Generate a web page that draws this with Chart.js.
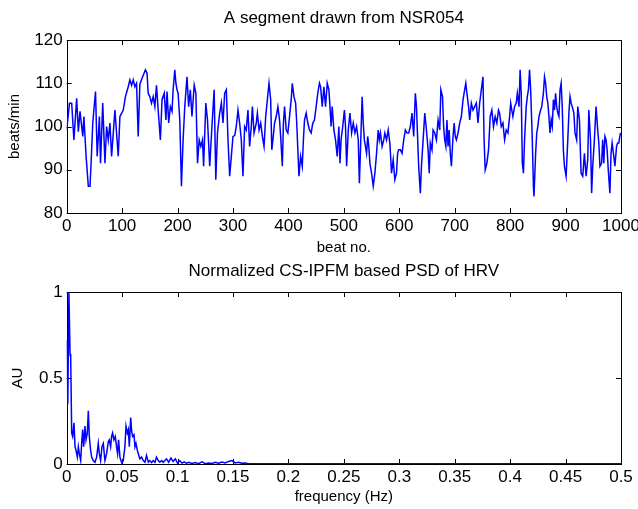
<!DOCTYPE html>
<html>
<head>
<meta charset="utf-8">
<script src="https://cdn.jsdelivr.net/npm/chart.js@4/dist/chart.umd.min.js"></script>
<style>
  html, body { margin: 0; padding: 0; background: #fff; }
  #wrap { position: relative; width: 638px; height: 509px; }
  #wrap canvas { position: absolute; left: 0; }
  #hrCanvas { top: 0; }
  #psdCanvas { top: 258px; }
</style>
</head>
<body>
<div id="wrap">
  <canvas id="hrCanvas" width="638" height="258"></canvas>
  <canvas id="psdCanvas" width="638" height="251"></canvas>
</div>
<script>
  // Heart rate segment (beat index, beats/min)
  const beatNo = [
    0, 5, 9, 13, 18, 21, 24, 29, 31, 35, 39, 42, 44, 47, 52, 55, 59, 61, 65, 69,
    72, 75, 78, 81, 87, 93, 96, 102, 106, 111, 114, 117, 120, 123, 126, 129, 132, 137, 142, 145,
    147, 150, 153, 156,
    159, 162, 165, 169, 172, 176, 179, 181, 184, 187, 190, 192, 195, 197, 199, 201, 204, 207, 210, 213,
    217, 220, 223, 226, 230, 233, 236, 239, 242, 245, 247, 251, 254, 256, 258, 262, 266, 269, 272, 276,
    279, 282, 285, 288, 291, 294, 297, 300, 303, 306, 309, 312, 315, 318, 321, 324, 327,
    330, 333, 335, 338, 342, 344, 347, 350, 353, 356, 359, 362, 365, 368, 370, 372, 375, 378, 381, 384,
    386, 389, 391, 393, 396, 399, 402, 405, 407, 410, 413, 415, 417, 419, 422, 425, 427, 429, 432, 435,
    438, 441, 444, 447, 450, 453, 456, 458, 461, 464, 467, 470, 473, 475, 477, 479, 482, 485, 488, 491,
    493, 495, 498,
    501, 503, 505, 508, 511, 514, 517, 520, 523, 526, 528, 530, 533, 535, 537, 539, 541, 543, 545, 547,
    550, 553, 556, 559, 562, 564, 566, 569, 572, 574, 577, 580, 583, 586, 589, 592, 595, 597, 599, 602,
    605, 608, 611, 614, 617, 620, 623, 626, 629, 631, 633, 635, 638, 640, 643, 646, 649, 652, 654, 656,
    659, 661, 664, 667, 670,
    673, 675, 678, 680, 682, 684, 686, 688, 690, 692, 694, 697, 699, 701, 703, 706, 709, 712, 715, 718,
    720, 722, 725, 727, 730, 733, 736, 739, 742, 745, 748, 751, 753, 755, 758, 761, 764, 767, 770, 773,
    776, 779, 781, 784, 787, 790, 793, 796, 799, 801, 803, 805, 808, 811, 813, 816, 818, 820, 822, 824,
    826, 829, 831, 833, 835, 837, 840, 842,
    843, 846, 848, 850, 852, 855, 857, 860, 862, 864, 866, 868, 870, 872, 874, 876, 878, 880, 882, 884,
    886, 888, 890, 892, 894, 896, 898, 901, 904, 906, 908, 910, 912, 915, 917, 920, 922, 925, 928, 931,
    934, 937, 940, 942, 945, 947, 949, 952, 955, 958, 960, 962, 965, 967, 969, 971, 973, 975, 977, 980,
    982, 984, 987, 989, 992, 994, 996, 999
  ];
  const heartRate = [
    99.2, 105.4, 105.4, 96.9, 106.5, 98.8, 103.5, 97.7, 102.3, 93.1, 86.2, 86.2, 91.5, 100.8, 108.1, 93.1, 102.3, 91.5, 105.4, 91.5,
    100, 96.9, 100.8, 93.1, 103.8, 93.1, 102.3, 103.8, 106.9, 109.2, 110.8, 109.5, 110.8, 109.2, 110, 97.7, 109.8, 111.5, 113.1, 112.3,
    107.7, 106.9, 105.4, 106.9,
    104.6, 109.5, 103.8, 96.9, 106.2, 107.7, 101.5, 108.1, 100.8, 104.6, 103.5, 108.5, 113.1, 110, 108.5, 107.7, 101.5, 86.2, 96.9, 104.6,
    111.5, 104.6, 108.5, 102.3, 109.6, 107.7, 91.5, 96.9, 95.4, 96.9, 90.8, 105.4, 101.5, 96.2, 90.8, 100, 108.5, 87.7, 98.5, 103.1,
    105.4, 100.8, 107.7, 108.5, 96.9, 88.5, 93.1, 97.7, 97.9, 100, 103.8, 100.8, 96.9, 88.5, 100, 99.2, 103.8,
    95.4, 100, 104.6, 98.5, 100.8, 103.1, 99.2, 100.8, 97.7, 95.4, 102.3, 106.2, 110, 106.2, 94.6, 96.9, 100.8, 102.3, 104.6, 101.5,
    97.7, 90.8, 100.8, 104.6, 99.2, 98.5, 102.3, 106.2, 110, 106.9, 105.4, 100.8, 94.6, 88.5, 93.1, 90.8, 96.9, 101.5, 103.1, 100.8,
    99.2, 98.5, 100.8, 101.5, 104.6, 107.7, 110, 109.2, 104.6, 109.2, 104.6, 110, 108.5, 104.6, 100, 104.6, 99.2, 96.9, 93.1, 100,
    91.5, 96.9, 100,
    103.8, 100, 90.8, 99.2, 103.1, 98.5, 100.8, 98.5, 100, 96.9, 86.9, 94.6, 106.9, 100.8, 96.9, 95.4, 93.8, 97.7, 95.4, 91.5,
    89.2, 86.2, 89.2, 93.8, 99.2, 96.9, 98.5, 95.4, 96.9, 98.5, 96.9, 99.2, 96.2, 89.2, 92.3, 87.7, 89.2, 93.8, 94.6, 94.6,
    93.8, 96.9, 99.2, 98.5, 98.5, 100, 103.1, 97.7, 107.7, 104.6, 97.7, 90.8, 84.6, 90.8, 96.9, 103.1, 99.2, 94.6, 89.2, 96.2,
    94.6, 99.2, 98.5, 96.9, 101.5,
    99.2, 108.5, 106.9, 100, 96.9, 95.4, 101.5, 95.4, 99.2, 93.8, 90.8, 97.7, 100.8, 97.7, 96.9, 98.5, 100.8, 102.3, 106.2, 108.5,
    110, 107.7, 104.6, 101.5, 105.4, 103.8, 104.6, 105.4, 100.8, 105.4, 108.5, 111.5, 96.9, 90, 91.5, 94.6, 102.3, 103.8, 100, 102.3,
    100.8, 103.8, 103.1, 100, 100.8, 96.9, 99.2, 98.5, 102.3, 105.4, 103.8, 102.3, 104.6, 105.4, 107.7, 104.6, 113.1, 107.7, 91.5, 89.2,
    96.9, 104.6, 106.9, 108.5, 113.1, 108.5, 96.9, 86.2,
    83.8, 93.8, 98.5, 100, 102.3, 103.8, 104.6, 107.7, 111.5, 110, 106.9, 105.4, 102.3, 98.5, 101.5, 100, 106.2, 103.8, 107.7, 104.6,
    103.1, 102.3, 108.5, 110, 104.6, 94.6, 90.8, 88.5, 96.9, 103.1, 106.9, 105.4, 104.6, 103.1, 98.5, 96.9, 104.6, 101.5, 89.2, 88.5,
    93.8, 88.5, 92.3, 103.8, 96.9, 84.6, 90.8, 96.9, 104.6, 99.2, 96.2, 90.8, 91.5, 96.9, 91.5, 97.7, 96.9, 94.6, 90, 84.6,
    93.8, 96.2, 93.1, 90.8, 95.4, 96.2, 96.2, 98.5
  ];

  // Normalized PSD (frequency in Hz, arbitrary units)
  const freqHz = [
    0, 0.001, 0.002, 0.003, 0.0036, 0.0045, 0.0054, 0.0066, 0.0075, 0.0084, 0.0096, 0.0105, 0.0114, 0.0126, 0.0135, 0.0144, 0.0153, 0.0165, 0.0174, 0.0186,
    0.0195, 0.0204, 0.0216, 0.0225, 0.024, 0.0255, 0.027, 0.0285, 0.0294, 0.0306, 0.0318, 0.033, 0.0345, 0.036, 0.0375, 0.0384, 0.0396, 0.0405, 0.0414, 0.0426,
    0.0438, 0.045, 0.0459, 0.0468, 0.048, 0.0489, 0.0498, 0.051, 0.0525, 0.0535, 0.0547, 0.0556, 0.0565, 0.0577, 0.0586, 0.0595, 0.0607, 0.0616, 0.0625, 0.0637,
    0.0646, 0.066, 0.0676, 0.069, 0.0706, 0.072, 0.0736, 0.075, 0.0766, 0.078, 0.0796, 0.081, 0.0826, 0.084, 0.0856, 0.087, 0.09, 0.092, 0.094, 0.096,
    0.098, 0.1, 0.102, 0.104, 0.106, 0.108, 0.11, 0.113, 0.116, 0.119, 0.122, 0.125, 0.128, 0.131, 0.134, 0.137, 0.14, 0.143, 0.146, 0.149,
    0.152, 0.155, 0.158, 0.161, 0.164, 0.17, 0.2, 0.25, 0.3, 0.35, 0.4, 0.45, 0.5
  ];
  const psdAU = [
    0.72, 0.35, 1.0, 0.64, 0.62, 0.18, 0.16, 0.24, 0.10, 0.08, 0.04, 0.10, 0.06, 0.02, 0.12, 0.20, 0.10, 0.22, 0.14, 0.18,
    0.31, 0.16, 0.08, 0.04, 0.02, 0.01, 0.04, 0.12, 0.06, 0.02, 0.10, 0.12, 0.02, 0.06, 0.13, 0.14, 0.10, 0.16, 0.18, 0.14,
    0.16, 0.10, 0.06, 0.14, 0.04, 0.02, 0.005, 0.02, 0.10, 0.22, 0.18, 0.20, 0.10, 0.27, 0.19, 0.16, 0.17, 0.10, 0.12, 0.08,
    0.06, 0.03, 0.04, 0.02, 0.01, 0.05, 0.01, 0.02, 0.008, 0.02, 0.01, 0.04, 0.02, 0.01, 0.02, 0.01, 0.03, 0.01, 0.035, 0.015,
    0.03, 0.005, 0.02, 0.005, 0.012, 0.004, 0.01, 0.003, 0.008, 0.002, 0.012, 0.002, 0.006, 0.003, 0.01, 0.004, 0.012, 0.006, 0.015, 0.02,
    0.006, 0.01, 0.004, 0.006, 0.002, 0.001, 0.001, 0.001, 0.001, 0.001, 0.001, 0.001, 0.001
  ];

  const FONT = "'Liberation Sans', Arial, Helvetica, sans-serif";
  const AXIS_LEFT = 66.7;   // width given to the y axis
  const RIGHT_PAD = 17;     // 638 - 621

  // MATLAB style box: black frame with inward ticks on all four sides
  const matlabBox = {
    id: 'matlabBox',
    beforeDatasetsDraw(chart) {
      const { ctx, chartArea: a, scales } = chart;
      const len = 5;
      ctx.save();
      ctx.strokeStyle = '#000';
      ctx.lineWidth = 1;
      ctx.beginPath();
      scales.x.ticks.forEach(t => {
        const px = Math.round(scales.x.getPixelForValue(t.value)) + 0.5;
        ctx.moveTo(px, a.bottom); ctx.lineTo(px, a.bottom - len);
        ctx.moveTo(px, a.top); ctx.lineTo(px, a.top + len);
      });
      scales.y.ticks.forEach(t => {
        const py = Math.round(scales.y.getPixelForValue(t.value)) + 0.5;
        ctx.moveTo(a.left, py); ctx.lineTo(a.left + len, py);
        ctx.moveTo(a.right, py); ctx.lineTo(a.right - len, py);
      });
      ctx.stroke();
      ctx.strokeRect(Math.round(a.left) + 0.5, Math.round(a.top) + 0.5,
        Math.round(a.right - a.left), Math.round(a.bottom - a.top));
      ctx.restore();
    }
  };

  const fmtTick = v => String(+Number(v).toFixed(2));

  function makeChart(canvasId, opts) {
    const h = document.getElementById(canvasId).height;
    return new Chart(document.getElementById(canvasId), {
      type: 'line',
      data: {
        datasets: [{
          data: opts.xs.map((x, i) => ({ x, y: opts.ys[i] })),
          borderColor: '#0000ff',
          borderWidth: 1.5,
          pointRadius: 0,
          tension: 0,
          fill: false
        }]
      },
      options: {
        responsive: false,
        animation: false,
        devicePixelRatio: 1,
        layout: { padding: { left: 0, right: RIGHT_PAD, top: 0, bottom: 0 } },
        plugins: {
          legend: { display: false },
          tooltip: { enabled: false },
          title: {
            display: true,
            text: opts.title,
            color: '#000',
            fullSize: false,
            font: { family: FONT, size: 17, lineHeight: 1.2, weight: 'normal' },
            padding: opts.titlePad
          }
        },
        scales: {
          x: {
            type: 'linear',
            min: opts.xMin, max: opts.xMax,
            grid: { display: false, drawTicks: false },
            border: { display: false },
            ticks: {
              stepSize: opts.xStep, autoSkip: false, maxRotation: 0,
              color: '#000', padding: 3,
              font: { family: FONT, size: 17 },
              callback: fmtTick
            },
            title: {
              display: true, text: opts.xLabel, color: '#000',
              font: { family: FONT, size: 15, lineHeight: 1.2 },
              padding: { top: 0, bottom: opts.xLabelPad }
            },
            afterFit: s => {
              s.height = h - opts.plotBottom;
              s.paddingLeft = 0;
              s.paddingRight = 0;
            }
          },
          y: {
            min: opts.yMin, max: opts.yMax,
            grid: { display: false, drawTicks: false },
            border: { display: false },
            ticks: {
              stepSize: opts.yStep, color: '#000', padding: 4,
              font: { family: FONT, size: 17 },
              callback: fmtTick
            },
            title: {
              display: true, text: opts.yLabel, color: '#000',
              font: { family: FONT, size: 15, lineHeight: 1.2 },
              padding: { top: opts.yLabelPad, bottom: 0 }
            },
            afterFit: s => {
              s.width = AXIS_LEFT;
              s.paddingTop = 0;
              s.paddingBottom = 0;
            }
          }
        }
      },
      plugins: [matlabBox]
    });
  }

  makeChart('hrCanvas', {
    xs: beatNo, ys: heartRate,
    title: 'A segment drawn from NSR054',
    titlePad: { top: 8.5, bottom: 11.1 },
    xMin: 0, xMax: 1000, xStep: 100, xLabel: 'beat no.', xLabelPad: 1,
    yMin: 80, yMax: 120, yStep: 10, yLabel: 'beats/min', yLabelPad: 6,
    plotBottom: 213
  });

  makeChart('psdCanvas', {
    xs: freqHz, ys: psdAU,
    title: 'Normalized CS-IPFM based PSD of HRV',
    titlePad: { top: 3, bottom: 10.6 },
    xMin: 0, xMax: 0.5, xStep: 0.05, xLabel: 'frequency (Hz)', xLabelPad: 3,
    yMin: 0, yMax: 1, yStep: 0.5, yLabel: 'AU', yLabelPad: 9,
    plotBottom: 206
  });
</script>
</body>
</html>
